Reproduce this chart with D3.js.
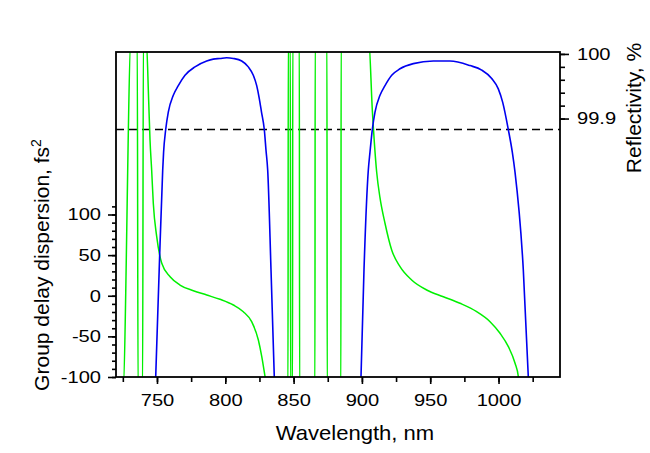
<!DOCTYPE html>
<html><head><meta charset="utf-8">
<script src="https://cdn.jsdelivr.net/npm/d3@7"></script>
<style>
body{margin:0;background:#fff}
text{font-family:Arial,"Liberation Sans",sans-serif;fill:#000}
</style>
</head><body>
<svg id="c" width="650" height="453"></svg>
<script>
// Reflectivity, band 1 (nm, %)
const refl1Wl  = [749.06, 751.62, 754.18, 754.84, 756.38, 758.28, 761.94, 765.60, 770.51, 777.83, 786.39, 791.2, 796.13, 801.0, 805.86, 812.01, 816.84, 820.50, 822.99, 824.89, 826.50, 828.55, 829.80, 831.04, 833.46, 835.87];
const refl1Val = [99.500, 99.666, 99.820, 99.848, 99.883, 99.910, 99.936, 99.951, 99.967, 99.980, 99.989, 99.992, 99.993, 99.994, 99.993, 99.989, 99.980, 99.967, 99.951, 99.931, 99.910, 99.883, 99.851, 99.820, 99.666, 99.500];
// Reflectivity, band 2
const refl2Wl  = [899.33, 901.53, 904.68, 905.92, 907.61, 909.58, 913.24, 916.90, 921.81, 927.88, 937.62, 952.26, 964.48, 979.12, 987.69, 995.01, 999.84, 1003.06, 1007.16, 1010.09, 1012.07, 1018.14, 1021.80];
const refl2Val = [99.500, 99.666, 99.820, 99.848, 99.883, 99.910, 99.936, 99.951, 99.967, 99.977, 99.985, 99.989, 99.989, 99.982, 99.975, 99.962, 99.946, 99.925, 99.883, 99.848, 99.817, 99.666, 99.500];
// Group delay dispersion (nm, fs^2); values beyond the axis range are clipped
const gddWl  = [720, 725.0, 731.1, 735.55, 736.15, 739.45, 740.05, 742.0, 743.9, 744.9, 746.1, 747.3, 749.8, 753.5, 759.6, 766.8, 776.6, 786.4, 796.1, 805.9, 813.2, 819.3, 824.2, 826.7, 829.1, 831.1,
                845.9, 846.1, 847.6, 847.8, 849.2, 849.4, 854.2, 854.4, 865.6, 865.8, 874.4, 874.6, 884.6, 884.8,
                904.8, 907.7, 910.8, 913.2, 916.9, 921.8, 927.9, 936.4, 947.4, 959.6, 971.8, 984.0, 993.8, 1001.1, 1007.2, 1012.1, 1014.5, 1015.2, 1045];
const gddVal = [-120, -120, 320, 320, -120, -120, 320, 320, 240.9, 191.7, 154.8, 113.8, 72.7, 39.9, 23.4, 13.2, 6.2, 0.9, -4.4, -11.4, -19.6, -31.9, -54.5, -75.0, -99.6, -120,
                -120, 320, 320, -120, -120, 320, 320, -120, -120, 320, 320, -120, -120, 320,
                320, 226, 152.3, 121.0, 89.2, 56.3, 35.8, 19.4, 7.1, -1.2, -9.3, -19.6, -31.9, -46.2, -62.7, -83.1, -99.6, -120, -120];
const dashedLevel = 99.883;

const xTicksMajor = [750, 800, 850, 900, 950, 1000];
const xTicksMinor = [725, 750, 775, 800, 825, 850, 875, 900, 925, 950, 975, 1000, 1025];
const yLTicksMajor = [-100, -50, 0, 50, 100];
const yLTicksMinor = d3.range(-100, 111, 10);
const yRTicksMajor = [99.9, 100];
const yRTicksMinor = [99.9, 99.92, 99.94, 99.96, 99.98, 100];

const L = 116, R = 560, T = 52, B = 377;
const SX = 1.22; // horizontal stretch of tick-label glyphs
const svg = d3.select("#c");
const x = d3.scaleLinear().domain([720, 1045]).range([L, R]);
const yL = d3.scaleLinear().domain([-100, 300]).range([B, T]);
const yR = d3.scaleLinear().domain([99.5, 100.003]).range([B, T]);

svg.append("defs").append("clipPath").attr("id", "clip")
  .append("rect").attr("x", L).attr("y", T).attr("width", R - L).attr("height", B - T);

const plot = svg.append("g").attr("clip-path", "url(#clip)");

plot.append("line")
  .attr("x1", L).attr("x2", R).attr("y1", yR(dashedLevel)).attr("y2", yR(dashedLevel))
  .attr("stroke", "#000").attr("stroke-width", 1.6).attr("stroke-dasharray", "8,5");

const gddData = gddWl.map((w, i) => [w, gddVal[i]]);
plot.append("path").datum(gddData)
  .attr("fill", "none").attr("stroke", "#00f000").attr("stroke-width", 1.5)
  .attr("d", d3.line().x(d => x(d[0])).y(d => yL(d[1])).curve(d3.curveMonotoneX));

const rLine = d3.line().x(d => x(d[0])).y(d => yR(d[1])).curve(d3.curveMonotoneX);
[[refl1Wl, refl1Val], [refl2Wl, refl2Val]].forEach(([w, v]) => {
  plot.append("path").datum(w.map((ww, i) => [ww, v[i]]))
    .attr("fill", "none").attr("stroke", "#0000f0").attr("stroke-width", 1.6)
    .attr("d", rLine);
});

// frame
svg.append("rect").attr("x", L).attr("y", T).attr("width", R - L).attr("height", B - T)
  .attr("fill", "none").attr("stroke", "#000").attr("stroke-width", 1.8);

function styleAxis(g) {
  g.select(".domain").remove();
  g.selectAll(".tick line").attr("stroke", "#000").attr("stroke-width", 1.6);
  g.selectAll("text").attr("font-size", 16.5).attr("fill", "#000")
    .each(function() {
      const t = d3.select(this);
      const xx = +t.attr("x") || 0;
      t.attr("x", xx / SX).attr("transform", `scale(${SX},1)`);
    });
}
// bottom
svg.append("g").attr("transform", `translate(0,${B})`)
  .call(d3.axisBottom(x).tickValues(xTicksMinor).tickSize(5).tickFormat("")).call(styleAxis);
svg.append("g").attr("transform", `translate(0,${B})`)
  .call(d3.axisBottom(x).tickValues(xTicksMajor).tickSize(7).tickPadding(10).tickFormat(d => String(d))).call(styleAxis);
// left
svg.append("g").attr("transform", `translate(${L},0)`)
  .call(d3.axisLeft(yL).tickValues(yLTicksMinor).tickSize(4).tickFormat("")).call(styleAxis);
svg.append("g").attr("transform", `translate(${L},0)`)
  .call(d3.axisLeft(yL).tickValues(yLTicksMajor).tickSize(8).tickPadding(7).tickFormat(d => String(d))).call(styleAxis);
// right
svg.append("g").attr("transform", `translate(${R},0)`)
  .call(d3.axisRight(yR).tickValues(yRTicksMinor).tickSize(5).tickFormat("")).call(styleAxis);
svg.append("g").attr("transform", `translate(${R},0)`)
  .call(d3.axisRight(yR).tickValues(yRTicksMajor).tickSize(9).tickPadding(8).tickFormat(d => d === 100 ? "100" : "99.9")).call(styleAxis);

// titles
svg.append("text").attr("transform", "translate(355,440) scale(1.05,1)").attr("text-anchor", "middle")
  .attr("font-size", 21).text("Wavelength, nm");
const lt = svg.append("text").attr("transform", "translate(49,265) rotate(-90)")
  .attr("text-anchor", "middle").attr("font-size", 21);
lt.append("tspan").text("Group delay dispersion, fs");
lt.append("tspan").attr("dy", -8).attr("font-size", 14).text("2");
svg.append("text").attr("transform", "translate(641,108) rotate(-90)")
  .attr("text-anchor", "middle").attr("font-size", 21).text("Reflectivity, %");
</script>
</body></html>
